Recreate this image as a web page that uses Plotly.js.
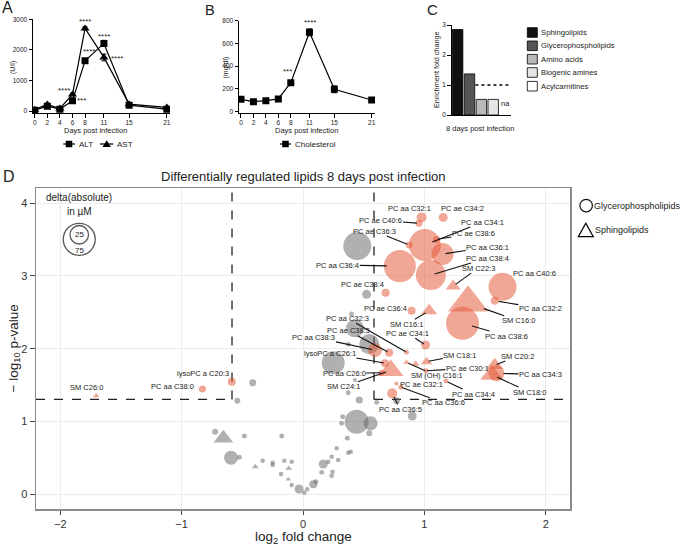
<!DOCTYPE html>
<html><head><meta charset="utf-8">
<script src="https://cdn.plot.ly/plotly-3.0.1.min.js"></script>
<style>html,body{margin:0;padding:0;background:#fff}#chart{width:685px;height:547px}</style>
</head><body><div id="chart"></div>
<script>
// ---------------- DATA ----------------
// Panel A: liver enzymes (U/l)
const days = [0, 2, 4, 6, 8, 11, 15, 21];
const dayTicks = ['0', '2', '4', '6', '8', '11', '15', '21'];
const altValues = [33, 163, 65, 337, 1644, 2212, 196, 65];
const altErr = [10, 30, 15, 40, 60, 100, 30, 15];
const astValues = [50, 219, 88, 545, 2703, 1755, 229, 121];
const astErr = [10, 30, 15, 40, 50, 110, 30, 20];
// Panel B: cholesterol (mg/dl)
const cholValues = [109, 88, 97, 112, 255, 698, 197, 103];
const cholErr = [10, 8, 8, 10, 15, 30, 30, 10];
// Panel C: enrichment fold change, 8 days post infection
const lipidClasses = ['Sphingolipids', 'Glycerophospholipids', 'Amino acids', 'Biogenic amines', 'Acylcarnitines'];
const enrichment = [2.85, 1.37, 0.52, 0.52, null];
// Panel D: volcano plot (log2 fold change, -log10 p, delta abs in µM, class)
const sigNames = ['PC aa C32:1','PC ae C34:2','PC ae C40:6','PC aa C34:1','PC ae C38:6','PC ae C36:3','PC aa C36:1','PC aa C38:4','PC aa C36:4','SM C22:3',
  'PC aa C40:6','PC aa C32:2','SM C16:0','PC aa C38:6','PC ae C38:4','PC ae C36:4','SM C16:1','PC ae C34:1','PC ae C38:5','PC aa C38:3',
  'PC aa C32:3','lysoPC a C26:1','SM C24:1','PC aa C26:0','SM C18:1','SM C16:1 b','SM (OH) C16:1','PC ae C30:1','PC ae C32:1','PC aa C36:6',
  'PC aa C34:4','PC aa C36:5','SM C20:2','PC aa C34:3','SM C18:0','lysoPC a C20:3','PC aa C38:0','SM C26:0'];
const sigX = [0.977,1.155,0.955,1.004,1.100,0.875,1.150,1.053,0.798,1.237,
  1.644,1.580,1.360,1.314,0.681,0.895,1.040,1.010,0.710,0.593,
  0.853,0.675,0.723,0.648,1.018,0.928,0.853,1.012,0.770,0.807,
  1.177,0.735,1.580,1.594,1.556,-0.587,-0.829,-1.704];
const sigY = [3.806,3.806,3.724,3.425,3.503,3.425,3.301,3.012,3.136,2.860,
  2.851,2.659,2.630,2.348,2.769,2.521,2.520,2.050,1.944,1.981,
  1.949,1.800,1.700,1.668,1.820,1.790,1.810,1.696,1.520,1.470,
  1.554,1.385,1.770,1.660,1.640,1.545,1.444,1.352];
const sigDelta = [7.3,5.9,3.6,75,3.6,3.6,35.4,65.9,75,12.4,
  57.4,4.7,89.7,79.8,4.7,4.7,14.4,5.9,4.7,14.4,
  1.8,4.7,35.4,2.6,7.3,3.6,2.6,1.8,1.2,1.8,
  1.8,7.3,16.5,18.7,29.3,4.7,3.6,2.6];
const sigClass = ['G','G','G','G','G','G','G','G','G','S',
  'G','G','S','G','G','G','S','G','G','G',
  'G','G','S','G','S','S','S','G','G','G',
  'G','G','S','G','S','G','G','S'];
const nsX = [0.447,0.524,0.400,0.428,0.546,0.373,0.249,0.428,0.373,0.464,0.607,0.771,0.900,0.442,0.557,0.327,0.318,0.546,0.365,0.277,
  0.393,0.290,0.244,0.236,0.167,0.208,0.236,0.154,0.107,0.085,0.035,0.011,-0.033,-0.093,-0.181,-0.093,-0.154,-0.250,-0.250,-0.332,
  -0.524,-0.593,-0.175,-0.483,-0.724,-0.414,-0.541,0.373,-0.656,-0.393,-0.118,-0.121];
const nsY = [3.411,2.747,2.476,2.279,2.063,2.059,1.806,1.568,1.393,1.293,1.261,1.283,1.073,0.994,0.972,1.063,0.972,0.835,0.766,0.629,
  0.582,0.468,0.307,0.252,0.413,0.445,0.513,0.298,0.169,0.133,0.065,0.018,0.069,0.124,0.275,0.445,0.458,0.430,0.400,0.458,
  0.505,0.499,0.798,0.798,0.857,1.531,1.283,0.568,0.766,0.376,0.353,0.202];
const nsDelta = [57.4,5.9,1.8,23.7,29.3,1.8,38.7,1.2,1.8,3.6,1.8,3.6,5.9,42.2,14.4,1.8,1.8,2.6,1.8,1.5,
  1.5,1.5,1.5,1.5,5.9,1.5,1.5,1.8,1.8,4.7,1.5,1.5,5.9,1.5,1.5,1.5,1.5,1.5,1.5,1.5,
  1.8,14.4,1.8,1.8,2.6,3.6,2.6,1.5,21.2,2.6,2.6,1.8];
const nsClass = ['G','G','G','G','G','G','G','G','G','G','G','G','G','G','G','G','G','G','G','G',
  'G','G','G','G','G','G','G','G','G','G','G','G','G','G','G','G','G','G','G','G',
  'G','G','G','G','G','G','G','G','S','S','S','S'];
const legendDelta = [25, 75];
const fcThreshold = 1.5;
const pThreshold = 0.05;

// ---------------- LAYOUT HELPERS ----------------
const W = 685, H = 547;
const px = v => v / W;
const py = v => 1 - v / H;
const FONT = 'Liberation Sans, Arial, Helvetica, sans-serif';
const sizeRef = 2 * 75 / (32 * 32);
const salmon = 'rgba(228,88,55,0.75)';
const grey = 'rgba(105,105,105,0.75)';
// D axis mapping helpers (pixel -> data) for layout-only items
const dX = p => (p - 303) / 121.5;
const dY = p => (494 - p) / 72.7;

function pick(arrs, cls, c) { const idx = []; cls.forEach((v, i) => { if (v === c) idx.push(i); }); return arrs.map(a => idx.map(i => a[i])); }

const traces = [];
// Panel A
traces.push({x: days, y: altValues, xaxis: 'x', yaxis: 'y', mode: 'lines+markers', type: 'scatter',
  line: {color: '#000', width: 1.2}, marker: {symbol: 'square', size: 7, color: '#000'},
  error_y: {type: 'data', array: altErr, color: '#000', thickness: 1, width: 2.5}});
traces.push({x: days, y: astValues, xaxis: 'x', yaxis: 'y', mode: 'lines+markers', type: 'scatter',
  line: {color: '#000', width: 1.2}, marker: {symbol: 'triangle-up', size: 8, color: '#000'},
  error_y: {type: 'data', array: astErr, color: '#000', thickness: 1, width: 2.5}});
// Panel B
traces.push({x: days, y: cholValues, xaxis: 'x2', yaxis: 'y2', mode: 'lines+markers', type: 'scatter',
  line: {color: '#000', width: 1.2}, marker: {symbol: 'square', size: 7, color: '#000'},
  error_y: {type: 'data', array: cholErr, color: '#000', thickness: 1, width: 2.5}});
// Panel C
traces.push({x: lipidClasses, y: enrichment, xaxis: 'x3', yaxis: 'y3', type: 'bar',
  marker: {color: ['#111111', '#555555', '#b9b9b9', '#e6e6e6', '#ffffff'], line: {color: '#000', width: 0.8}}});
// Panel D
const [ngX, ngY, ngD] = pick([nsX, nsY, nsDelta], nsClass, 'G');
const [nsTX, nsTY, nsTD] = pick([nsX, nsY, nsDelta], nsClass, 'S');
const [sgX, sgY, sgD] = pick([sigX, sigY, sigDelta], sigClass, 'G');
const [ssX, ssY, ssD] = pick([sigX, sigY, sigDelta], sigClass, 'S');
const mk = (sym, col, sz) => ({symbol: sym, color: col, size: sz, sizemode: 'area', sizeref: sizeRef, line: {width: 0}});
traces.push({x: ngX, y: ngY, xaxis: 'x4', yaxis: 'y4', mode: 'markers', type: 'scatter', marker: mk('circle', grey, ngD)});
traces.push({x: nsTX, y: nsTY, xaxis: 'x4', yaxis: 'y4', mode: 'markers', type: 'scatter', marker: mk('triangle-up', grey, nsTD)});
traces.push({x: sgX, y: sgY, xaxis: 'x4', yaxis: 'y4', mode: 'markers', type: 'scatter', marker: mk('circle', salmon, sgD)});
traces.push({x: ssX, y: ssY, xaxis: 'x4', yaxis: 'y4', mode: 'markers', type: 'scatter', marker: mk('triangle-up', salmon, ssD)});
// size key (delta absolute)
const keyX = dX(79);
traces.push({x: [keyX, keyX], y: [dY(234.7), dY(239.3)], xaxis: 'x4', yaxis: 'y4', mode: 'markers', type: 'scatter',
  marker: {symbol: 'circle-open', color: '#111', size: legendDelta, sizemode: 'area', sizeref: sizeRef, line: {width: 1.3, color: '#111'}}});

// ---------------- AXES ----------------
const smallAxis = {showline: true, linecolor: '#000', linewidth: 1, ticks: 'outside', ticklen: 3.5, tickwidth: 1, tickcolor: '#000',
  showgrid: false, zeroline: false, tickfont: {size: 6.5, color: '#222'}, fixedrange: true};
const layout = {
  width: W, height: H, margin: {l: 0, r: 0, t: 0, b: 0}, showlegend: false,
  paper_bgcolor: '#fff', plot_bgcolor: 'rgba(0,0,0,0)', font: {family: FONT, color: '#222'}, bargap: 0.12,
  xaxis: Object.assign({}, smallAxis, {domain: [px(33), px(170)], range: [-0.27, 21.5], anchor: 'y', tickvals: days, ticktext: dayTicks}),
  yaxis: Object.assign({}, smallAxis, {domain: [py(113), py(19.3)], range: [-60, 3000], anchor: 'x', tickvals: [0, 1000, 2000, 3000], ticktext: ['0', '1000', '2000', '3000']}),
  xaxis2: Object.assign({}, smallAxis, {domain: [px(239), px(375)], range: [-0.32, 21.53], anchor: 'y2', tickvals: days, ticktext: dayTicks}),
  yaxis2: Object.assign({}, smallAxis, {domain: [py(113), py(20.7)], range: [-11.4, 800], anchor: 'x2', tickvals: [0, 200, 400, 600, 800], ticktext: ['0', '200', '400', '600', '800']}),
  xaxis3: Object.assign({}, smallAxis, {domain: [px(451.7), px(511)], range: [-0.5, 4.5], anchor: 'y3', type: 'category', showticklabels: false, ticks: ''}),
  yaxis3: Object.assign({}, smallAxis, {domain: [py(115), py(25)], range: [0, 3], anchor: 'x3', tickvals: [0, 1, 2, 3], ticktext: ['0', '1', '2', '3']}),
  xaxis4: {domain: [px(36), px(570)], range: [-2.2, 2.2], anchor: 'y4', tickvals: [-2, -1, 0, 1, 2], showline: true, mirror: true,
    linecolor: '#8a8a8a', linewidth: 1.5, ticks: 'outside', ticklen: 4.5, tickcolor: '#444', tickwidth: 1, showgrid: true, gridcolor: '#ececec', gridwidth: 1,
    zeroline: false, tickfont: {size: 11, color: '#333'}, fixedrange: true},
  yaxis4: {domain: [py(509), py(188)], range: [-0.206, 4.21], anchor: 'x4', tickvals: [0, 1, 2, 3, 4], showline: true, mirror: true,
    linecolor: '#8a8a8a', linewidth: 1.5, ticks: 'outside', ticklen: 5, tickcolor: '#444', tickwidth: 1, showgrid: true, gridcolor: '#ececec', gridwidth: 1,
    zeroline: false, tickfont: {size: 11, color: '#333'}, fixedrange: true},
  shapes: [], annotations: []
};

// ---------------- SHAPES ----------------
const S = layout.shapes;
const xLo = Math.log2(1 / fcThreshold), xHi = Math.log2(fcThreshold), yP = -Math.log10(pThreshold);
const dashed = {type: 'line', xref: 'x4', yref: 'y4', line: {color: '#222', width: 1.3, dash: 'dash'}, layer: 'between'};
S.push(Object.assign({}, dashed, {x0: xLo, x1: xLo, y0: yP, y1: 4.21}));
S.push(Object.assign({}, dashed, {x0: -2.2, x1: xLo, y0: yP, y1: yP}));
S.push(Object.assign({}, dashed, {x0: xHi, x1: xHi, y0: yP, y1: 4.21}));
S.push(Object.assign({}, dashed, {x0: xHi, x1: 2.2, y0: yP, y1: yP}));
// C dotted reference line at 1
S.push({type: 'line', xref: 'x3', yref: 'y3', x0: 1.5, x1: 4.5, y0: 1, y1: 1, line: {color: '#000', width: 1.5, dash: 'dot'}});

function pline(x0, x1, y) { return {type: 'line', xref: 'paper', yref: 'paper', x0: px(x0), x1: px(x1), y0: py(y), y1: py(y), line: {color: '#000', width: 1.2}}; }
function prect(cx, cy, w, h, fill, lw) { return {type: 'rect', xref: 'paper', yref: 'paper', x0: px(cx - w / 2), x1: px(cx + w / 2), y0: py(cy + h / 2), y1: py(cy - h / 2), fillcolor: fill, line: {color: '#000', width: lw}}; }
function ppath(pts, fill, lw) { return {type: 'path', xref: 'paper', yref: 'paper', path: 'M' + pts.map(p => px(p[0]) + ',' + py(p[1])).join('L') + 'Z', fillcolor: fill, line: {color: '#000', width: lw}}; }
// A legend
S.push(pline(63.3, 75, 144)); S.push(prect(69, 144, 6.5, 6.5, '#000', 0));
S.push(pline(100, 113.3, 144)); S.push(ppath([[102.5, 147], [110.9, 147], [106.7, 140.3]], '#000', 0));
// B legend
S.push(pline(280, 291, 144)); S.push(prect(285.5, 144, 6.5, 6.5, '#000', 0));
// C legend boxes
const cKeyY = [32.5, 45.8, 59.2, 72.5, 86.2];
const cFills = ['#111111', '#555555', '#b9b9b9', '#e6e6e6', '#ffffff'];
cKeyY.forEach((y, i) => S.push(prect(532.3, y, 10, 9.6, cFills[i], 0.8)));
// D shape legend
S.push({type: 'circle', xref: 'paper', yref: 'paper', x0: px(579.9), x1: px(592.4), y0: py(211.8), y1: py(199.3), line: {color: '#111', width: 1.2}});
S.push(ppath([[578.3, 236.7], [593.3, 236.7], [585.8, 223.3]], 'rgba(0,0,0,0)', 1.2));

// ---------------- ANNOTATIONS ----------------
const A = layout.annotations;
function ptext(t, x, y, size, opts) { A.push(Object.assign({text: t, xref: 'paper', yref: 'paper', x: px(x), y: py(y), showarrow: false,
  font: {size: size, color: '#222', family: FONT}, xanchor: 'center', yanchor: 'middle'}, opts || {})); }
ptext('A', 7, 8, 16); ptext('B', 209.5, 10, 14.5); ptext('C', 432.5, 9, 15); ptext('D', 9, 176, 16);
ptext('(U/l)', 13, 68, 7, {textangle: -90});
ptext('Days post infection', 95.8, 130.7, 7.5);
ptext('ALT', 76.5, 144, 8, {xanchor: 'left'}); ptext('AST', 115, 144, 8, {xanchor: 'left'});
ptext('(mg/dl)', 225.5, 68, 7, {textangle: -90});
ptext('Days post infection', 306, 130.7, 7.5);
ptext('Cholesterol', 293, 144, 8, {xanchor: 'left'});
ptext('Enrichment fold change', 436, 70, 7.3, {textangle: -90});
ptext('8 days post infection', 480, 128.3, 7.5);
lipidClasses.forEach((c, i) => ptext(c, 539.3, cKeyY[i], 7.7, {xanchor: 'left'}));
ptext('Differentially regulated lipids 8 days post infection', 303, 176, 13);
ptext('log<sub>2</sub> fold change', 303, 537, 13.5);
ptext('− log<sub>10</sub> p-value', 14, 348.5, 13.5, {textangle: -90});
ptext('Glycerophospholipids', 593, 205.5, 9, {xanchor: 'left', borderpad: 0});
ptext('Sphingolipids', 594, 230, 9, {xanchor: 'left', borderpad: 0});
// size key text
ptext('delta(absolute)', 79, 197.3, 10); ptext('in µM', 79, 211.7, 10);
ptext('25', 79, 234.7, 8); ptext('75', 79, 250, 8);
// "na" in C
A.push({text: 'na', xref: 'x3', yref: 'y3', x: lipidClasses[4], y: 0.37, showarrow: false, font: {size: 7.5, color: '#222'}});
// significance stars
const starsA = [[8.0, 2918, '****'], [11.07, 2428, '****'], [8.68, 1961, '****'], [13.04, 1722, '****'], [4.7, 686, '****'], [7.47, 360, '***']];
starsA.forEach(s => A.push({text: s[2], xref: 'x', yref: 'y', x: s[0], y: s[1], showarrow: false, font: {size: 8, color: '#222'}}));
const starsB = [[7.5, 352, '***'], [11.1, 782, '****']];
starsB.forEach(s => A.push({text: s[2], xref: 'x2', yref: 'y2', x: s[0], y: s[1], showarrow: false, font: {size: 8, color: '#222'}}));

// volcano labels: [name, dx(px), dy(px), leader line, standoff]
const labelSpec = [
  ['PC aa C32:1', -12, -9, 0, 0], ['PC ae C34:2', 19, -9, 0, 0], ['PC ae C40:6', -38, -3, 1, 2],
  ['PC ae C36:3', -35, -14, 1, 2], ['PC aa C34:1', 58, -23, 1, 8], ['PC ae C38:6', 37, -6, 1, 2],
  ['PC aa C36:1', 45, -7, 1, 3], ['PC aa C38:4', 57, -17, 1, 4], ['SM C22:3', 25, -18, 1, 3],
  ['PC aa C36:4', -62, -1, 1, 13], ['PC aa C40:6', 32, -13, 0, 0], ['PC aa C32:2', 45.5, 7.6, 1, 4],
  ['SM C16:0', 50, 18, 1, 17], ['PC aa C38:6', 44.5, 12.7, 1, 10], ['PC ae C38:4', -23, -8, 0, 0],
  ['PC ae C36:4', -26, -2.4, 0, 0], ['SM C16:1', -23, 13.3, 1, 4], ['PC ae C34:1', -18, -11.7, 1, 2],
  ['PC aa C32:3', -59, -34, 1, 1], ['PC ae C38:5', -41, -22, 1, 2], ['PC aa C38:3', -61, -12.7, 1, 3],
  ['lysoPC a C26:1', -55, -10, 1, 1], ['PC aa C26:0', -37.5, 0.6, 1, 1], ['SM C24:1', -47.5, 16.3, 1, 5],
  ['SM C18:1', 33.3, -6.7, 1, 2], ['SM (OH) C16:1', 30, 13.3, 1, 2], ['PC ae C30:1', 41.5, -2.4, 1, 1],
  ['PC ae C32:1', 25, 1, 0, 0], ['PC aa C36:6', 42.3, 15.6, 1, 1], ['PC aa C34:4', 27.3, 13, 1, 2],
  ['PC aa C36:5', 8, 16, 1, 4], ['SM C20:2', 23, -9.3, 1, 2], ['PC aa C34:3', 44, 1, 1, 7],
  ['SM C18:0', 37.5, 17.3, 1, 6], ['lysoPC a C20:3', -29, -8.4, 0, 0], ['PC aa C38:0', -30, -3, 0, 0],
  ['SM C26:0', -9.3, -8.4, 0, 0]
];
labelSpec.forEach(l => {
  const i = sigNames.indexOf(l[0]);
  if (i < 0) return;
  A.push({text: l[0], xref: 'x4', yref: 'y4', x: sigX[i], y: sigY[i], ax: l[1], ay: l[2], axref: 'pixel', ayref: 'pixel',
    showarrow: true, arrowhead: 0, arrowwidth: l[3] ? 1.1 : 0.1, arrowcolor: l[3] ? '#111' : 'rgba(0,0,0,0)', standoff: l[4],
    borderpad: 0, font: {size: 7.5, color: '#222', family: FONT}});
});

Plotly.newPlot('chart', traces, layout, {displayModeBar: false, staticPlot: true});
</script>
</body></html>
